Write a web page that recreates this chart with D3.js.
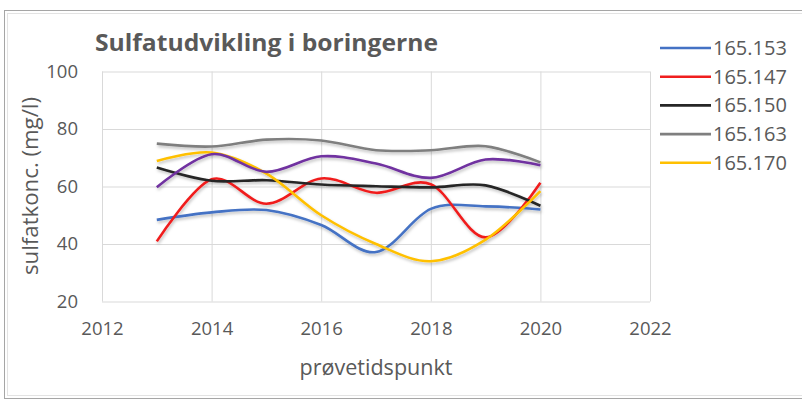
<!DOCTYPE html>
<html lang="da">

<head>
    <meta charset="UTF-8">
    <script src="https://cdn.jsdelivr.net/npm/d3@7"></script>
    <style>
body{
    margin: 0;
    background: #fff;
}
text{
    font-family: "Open Sans", "Noto Sans", sans-serif;
    fill: #595959;
}
.gridlines line{
    stroke: #d9d9d9;
    stroke-width: 1;
}
.gridlines .domain{
    display: none;
}
.axis text{
    font-size: 18.5px;
}
.axis line, .axis .domain{
    display: none;
}
.series{
    fill: none;
    stroke-width: 2.6;
}
.legend text{
    font-size: 20px;
}
    </style>
    <title>Sulfatudvikling</title>
</head>

<body>
    <svg class="chart"></svg>
    <script>
// sample years and sulfate concentrations (mg/l) per boring
const years = [2013, 2014, 2015, 2016, 2017, 2018, 2019, 2020];
const b165153 = [48.4, 51.0, 51.8, 46.6, 37.2, 52.2, 53.1, 52.0];
const b165147 = [40.9, 62.5, 54.0, 62.8, 57.8, 60.8, 42.3, 61.3];
const b165150 = [66.6, 62.0, 62.2, 60.7, 60.1, 59.7, 60.4, 53.3];
const b165163 = [74.9, 73.9, 76.3, 76.0, 72.6, 72.6, 74.0, 68.4];
const b165170 = [68.9, 71.8, 64.5, 50.0, 40.0, 34.0, 41.5, 58.4];
const bUnnamed = [59.7, 71.2, 65.1, 70.5, 68.0, 63.0, 69.4, 67.4];

const seriesNames = ['165.153', '165.147', '165.150', '165.163', '165.170', ''];
const seriesColors = ['#4472c4', '#f01e1e', '#262626', '#7f7f7f', '#ffc000', '#7030a0'];
const seriesValues = [b165153, b165147, b165150, b165163, b165170, bUnnamed];

const xTicks = [2012, 2014, 2016, 2018, 2020, 2022];
const yTicks = [20, 40, 60, 80, 100];

let W = 802, H = 401;
let plot = { left: 102, right: 650, top: 71.5, bottom: 301.5 };

let svg = d3.select('.chart')
    .attr('width', W)
    .attr('height', H);

// frame around the chart
svg.append('rect')
    .attr('x', 4.5).attr('y', 10.5)
    .attr('width', 810).attr('height', 388)
    .attr('fill', '#fff')
    .attr('stroke', '#a6a6a6');
svg.append('rect')
    .attr('x', 7.5).attr('y', 13.5)
    .attr('width', 810).attr('height', 382)
    .attr('fill', 'none')
    .attr('stroke', '#e3e3e3');

// soft shadow under the lines
let defs = svg.append('defs');
defs.append('filter')
    .attr('id', 'shadow')
    .attr('x', '-10%').attr('y', '-20%')
    .attr('width', '120%').attr('height', '140%')
    .append('feDropShadow')
    .attr('dx', 1).attr('dy', 2)
    .attr('stdDeviation', 1.5)
    .attr('flood-color', '#000')
    .attr('flood-opacity', 0.25);

let x = d3.scaleLinear()
    .domain([2012, 2022])
    .range([plot.left, plot.right]);
let y = d3.scaleLinear()
    .domain([20, 100])
    .range([plot.bottom, plot.top]);

// gridlines
svg.append('g')
    .attr('class', 'gridlines')
    .attr('transform', 'translate(0,' + plot.bottom + ')')
    .call(d3.axisBottom(x).tickValues(xTicks).tickSize(-(plot.bottom - plot.top)).tickFormat(''));
svg.append('g')
    .attr('class', 'gridlines')
    .attr('transform', 'translate(' + plot.left + ',0)')
    .call(d3.axisLeft(y).tickValues(yTicks).tickSize(-(plot.right - plot.left)).tickFormat(''));

// axis labels
svg.append('g')
    .attr('class', 'x axis')
    .attr('transform', 'translate(0,' + (plot.bottom + 17) + ')')
    .call(d3.axisBottom(x).tickValues(xTicks).tickSize(0).tickFormat(d3.format('d')));
svg.append('g')
    .attr('class', 'y axis')
    .attr('transform', 'translate(' + (plot.left - 21) + ',0)')
    .call(d3.axisLeft(y).tickValues(yTicks).tickSize(0));

// lines
let line = d3.line()
    .x((d, i) => x(years[i]))
    .y(d => y(d))
    .curve(d3.curveCardinal.tension(0));

svg.append('g')
    .attr('filter', 'url(#shadow)')
    .selectAll('.series')
    .data(seriesValues)
    .enter().append('path')
    .attr('class', 'series')
    .attr('stroke', (d, i) => seriesColors[i])
    .attr('d', line);

// title
svg.append('text')
    .attr('x', 95)
    .attr('y', 51)
    .attr('font-size', 23)
    .attr('font-weight', 'bold')
    .attr('textLength', 343)
    .attr('lengthAdjust', 'spacingAndGlyphs')
    .text('Sulfatudvikling i boringerne');

// axis titles
svg.append('text')
    .attr('transform', 'translate(38,186) rotate(-90)')
    .attr('text-anchor', 'middle')
    .attr('font-size', 21)
    .attr('textLength', 178)
    .attr('lengthAdjust', 'spacingAndGlyphs')
    .text('sulfatkonc. (mg/l)');
svg.append('text')
    .attr('x', 376)
    .attr('y', 375)
    .attr('text-anchor', 'middle')
    .attr('font-size', 21)
    .attr('textLength', 153)
    .attr('lengthAdjust', 'spacingAndGlyphs')
    .text('prøvetidspunkt');

// legend (only the named borings)
let legend = svg.append('g')
    .attr('class', 'legend')
    .selectAll('g')
    .data(seriesNames.filter(n => n !== ''))
    .enter().append('g')
    .attr('transform', (d, i) => 'translate(660,' + (48 + i * 28.7) + ')');
legend.append('line')
    .attr('x1', 0).attr('x2', 51)
    .attr('stroke-width', 2.6)
    .attr('stroke', (d, i) => seriesColors[i]);
legend.append('text')
    .attr('x', 53)
    .attr('dy', '0.35em')
    .text(d => d);
    </script>
</body>

</html>
